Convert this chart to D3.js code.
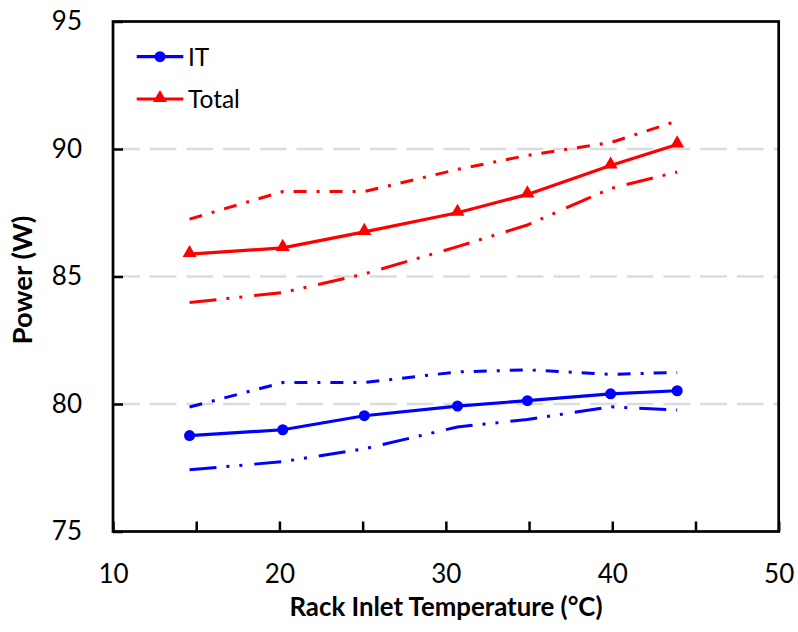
<!DOCTYPE html>
<html>
<head>
<meta charset="utf-8">
<script src="https://cdn.jsdelivr.net/npm/d3@7"></script>
<style>
  body { margin: 0; background: #fff; }
  text { font-family: Lato, "Open Sans", sans-serif; fill: #000; }
</style>
</head>
<body>
<div id="chart_area"></div>
<script>
// data
const temps = [14.6, 20.2, 25.1, 30.7, 34.9, 39.9, 43.9];
const itMean = [78.76, 78.99, 79.54, 79.92, 80.13, 80.40, 80.52];
const itUpper = [79.88, 80.84, 80.84, 81.26, 81.34, 81.16, 81.24];
const itLower = [77.42, 77.74, 78.24, 79.10, 79.39, 79.89, 79.76];
const totalMean = [85.88, 86.12, 86.75, 87.50, 88.22, 89.35, 90.18];
const totalUpper = [87.25, 88.33, 88.33, 89.20, 89.75, 90.25, 91.10];
const totalLower = [83.98, 84.37, 85.10, 86.17, 87.02, 88.45, 89.10];
const xTicks = [10, 15, 20, 25, 30, 35, 40, 45, 50];
const yTicks = [75, 80, 85, 90, 95];
const gridValues = [80, 85, 90];

// dimensions
const W = 798, H = 632;
const margin = { top: 21.5, right: 19.3, bottom: 100.5, left: 113 };
const width = W - margin.left - margin.right;
const height = H - margin.top - margin.bottom;

const svg = d3.select('#chart_area')
  .append('svg')
  .attr('width', W)
  .attr('height', H);

const g = svg.append('g')
  .attr('transform', 'translate(' + margin.left + ',' + margin.top + ')');

// scales
const x = d3.scaleLinear().domain([10, 50]).range([0, width]);
const y = d3.scaleLinear().domain([75, 95]).range([height, 0]);

// gridlines
g.selectAll('line.grid')
  .data(gridValues)
  .enter()
  .append('line')
  .attr('class', 'grid')
  .attr('x1', 0)
  .attr('x2', width)
  .attr('y1', d => y(d))
  .attr('y2', d => y(d))
  .attr('stroke', '#dcdcdc')
  .attr('stroke-width', 2.5)
  .attr('stroke-dasharray', '26.7,10');

// axes
const xAxis = d3.axisBottom(x)
  .tickValues(xTicks)
  .tickSizeInner(-10)
  .tickSizeOuter(0)
  .tickPadding(33)
  .tickFormat(d => (d % 10 === 0 ? d : ''));
const yAxis = d3.axisLeft(y)
  .tickValues(yTicks)
  .tickSizeInner(-10)
  .tickSizeOuter(0)
  .tickPadding(31);

const xg = g.append('g').attr('transform', 'translate(0,' + height + ')').call(xAxis);
const yg = g.append('g').call(yAxis);
[xg, yg].forEach(ax => {
  ax.select('.domain').remove();
  ax.selectAll('.tick line').attr('stroke', '#000').attr('stroke-width', 2.5);
  ax.selectAll('.tick text')
    .style('font-family', 'Lato, sans-serif')
    .style('font-size', '26px')
    .attr('fill', '#000');
});

// frame
g.append('rect')
  .attr('x', 0)
  .attr('y', 0)
  .attr('width', width)
  .attr('height', height)
  .attr('fill', 'none')
  .attr('stroke', '#000')
  .attr('stroke-width', 2.7);

// axis titles
svg.append('text')
  .attr('x', 446)
  .attr('y', 616)
  .attr('text-anchor', 'middle')
  .style('font-size', '25.8px')
  .style('font-weight', 'bold')
  .text('Rack Inlet Temperature (°C)');

svg.append('text')
  .attr('transform', 'translate(32,280) rotate(-90)')
  .attr('text-anchor', 'middle')
  .style('font-size', '27.5px')
  .style('font-weight', 'bold')
  .text('Power (W)');

// series
const line = d3.line()
  .x(d => x(d[0]))
  .y(d => y(d[1]));

const series = [
  { name: 'IT', color: '#0000ff', mean: itMean, upper: itUpper, lower: itLower, marker: 'circle' },
  { name: 'Total', color: '#ff0000', mean: totalMean, upper: totalUpper, lower: totalLower, marker: 'triangle' },
];

const triangle = d3.symbol().type(d3.symbolTriangle).size(85);

series.forEach(s => {
  g.append('path')
    .datum(d3.zip(temps, s.upper))
    .attr('d', line)
    .attr('fill', 'none')
    .attr('stroke', s.color)
    .attr('stroke-width', 3)
    .attr('stroke-dasharray', '13,10,3,10');
  g.append('path')
    .datum(d3.zip(temps, s.lower))
    .attr('d', line)
    .attr('fill', 'none')
    .attr('stroke', s.color)
    .attr('stroke-width', 3)
    .attr('stroke-dasharray', '27,10,3,10,3,12');
  g.append('path')
    .datum(d3.zip(temps, s.mean))
    .attr('d', line)
    .attr('fill', 'none')
    .attr('stroke', s.color)
    .attr('stroke-width', 3.2);

  const pts = g.selectAll('.pt-' + s.name)
    .data(d3.zip(temps, s.mean))
    .enter();
  if (s.marker === 'circle') {
    pts.append('circle')
      .attr('cx', d => x(d[0]))
      .attr('cy', d => y(d[1]))
      .attr('r', 5.5)
      .attr('fill', s.color);
  } else {
    pts.append('path')
      .attr('d', triangle)
      .attr('transform', d => 'translate(' + x(d[0]) + ',' + (y(d[1]) - 1) + ')')
      .attr('fill', s.color);
  }
});

// legend
const legend = svg.append('g');
series.forEach((s, i) => {
  const ly = 56.7 + i * 42.3;
  legend.append('line')
    .attr('x1', 136.7)
    .attr('x2', 183.3)
    .attr('y1', ly)
    .attr('y2', ly)
    .attr('stroke', s.color)
    .attr('stroke-width', 3.2);
  if (s.marker === 'circle') {
    legend.append('circle').attr('cx', 160).attr('cy', ly).attr('r', 5.5).attr('fill', s.color);
  } else {
    legend.append('path').attr('d', triangle)
      .attr('transform', 'translate(160,' + (ly - 1) + ')')
      .attr('fill', s.color);
  }
  legend.append('text')
    .attr('x', 188)
    .attr('y', ly)
    .attr('dy', '0.36em')
    .style('font-size', '24.5px')
    .text(s.name);
});
</script>
</body>
</html>
